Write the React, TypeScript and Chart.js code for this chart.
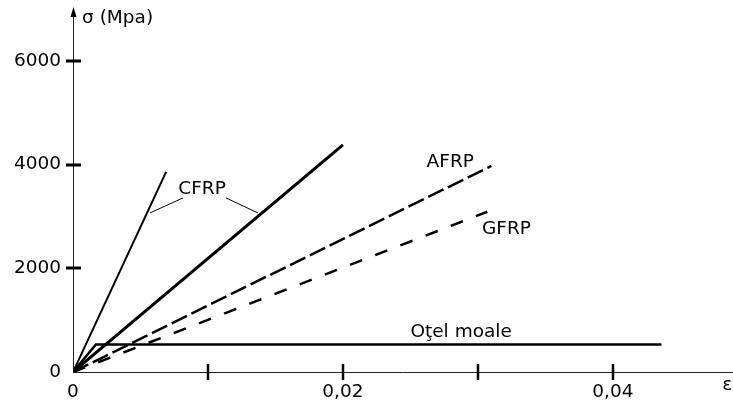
import React, { useEffect, useRef } from "react";
import { Chart, registerables } from "chart.js";

Chart.register(...registerables);

// strain (ε) / stress (σ, MPa) end points of each material curve
const cfrpHighX = [0, 0.0069];
const cfrpHighY = [0, 3860];
const cfrpX = [0, 0.02];
const cfrpY = [0, 4380];
const afrpX = [0, 0.031];
const afrpY = [0, 3975];
const gfrpX = [0, 0.0307];
const gfrpY = [0, 3090];
const steelX = [0, 0.0017, 0.0436];
const steelY = [0, 530, 530];

const xTickValues = [0, 0.01, 0.02, 0.03, 0.04];
const xTickLabels = ["0", "", "0,02", "", "0,04"];
const yTickValues = [0, 2000, 4000, 6000];
const yTickLabels = ["0", "2000", "4000", "6000"];

const FONT = '"DejaVu Sans", Verdana, sans-serif';
const FS = 18.5;

const pts = (xs: number[], ys: number[]) => xs.map((x, i) => ({ x, y: ys[i] }));

const decorPlugin = {
  id: "decor",
  afterDraw(chart: any) {
    const { ctx, scales, chartArea } = chart;
    const xs = scales.x;
    const ys = scales.y;
    const x0 = xs.getPixelForValue(0);
    const y0 = ys.getPixelForValue(0);
    ctx.save();
    ctx.strokeStyle = "#000";
    ctx.fillStyle = "#000";
    // tick marks crossing the axes
    ctx.lineWidth = 2.5;
    xTickValues.slice(1).forEach((v) => {
      const px = Math.round(xs.getPixelForValue(v));
      ctx.beginPath();
      ctx.moveTo(px, y0 - 8);
      ctx.lineTo(px, y0 + 8);
      ctx.stroke();
    });
    ctx.lineWidth = 3;
    yTickValues.slice(1).forEach((v) => {
      const py = Math.round(ys.getPixelForValue(v));
      ctx.beginPath();
      ctx.moveTo(x0 - 7, py);
      ctx.lineTo(x0 + 8, py);
      ctx.stroke();
    });
    // arrow head at top of y axis
    ctx.beginPath();
    ctx.moveTo(x0 + 0.5, chartArea.top - 2);
    ctx.lineTo(x0 - 2.5, chartArea.top + 8);
    ctx.lineTo(x0 + 3.5, chartArea.top + 8);
    ctx.closePath();
    ctx.fill();

    // annotations
    ctx.font = `${FS}px ${FONT}`;
    ctx.textBaseline = "middle";
    ctx.textAlign = "left";
    const label = (t: string, x: number, y: number) => {
      ctx.fillText(t, xs.getPixelForValue(x), ys.getPixelForValue(y));
    };
    label("σ (Mpa)", 0.00067, 6830);
    label("CFRP", 0.0078, 3530);
    label("AFRP", 0.0262, 4051);
    label("GFRP", 0.0303, 2759);
    label("Oţel moale", 0.025, 772);
    label("ε", 0.0481, -251);

    // leader lines from CFRP label
    ctx.lineWidth = 1;
    const seg = (ax: number, ay: number, bx: number, by: number) => {
      ctx.beginPath();
      ctx.moveTo(xs.getPixelForValue(ax), ys.getPixelForValue(ay));
      ctx.lineTo(xs.getPixelForValue(bx), ys.getPixelForValue(by));
      ctx.stroke();
    };
    seg(0.00815, 3357, 0.0057, 3067);
    seg(0.01133, 3357, 0.0137, 3067);
    ctx.restore();
  },
};

export default function App() {
  const ref = useRef<HTMLCanvasElement | null>(null);
  useEffect(() => {
    if (!ref.current) return;
    const base = { showLine: true, pointRadius: 0, borderColor: "#000", fill: false, tension: 0 };
    const chart = new Chart(ref.current, {
      type: "scatter",
      data: {
        datasets: [
          { ...base, label: "CFRP", data: pts(cfrpHighX, cfrpHighY), borderWidth: 2 },
          { ...base, label: "CFRP 2", data: pts(cfrpX, cfrpY), borderWidth: 3 },
          { ...base, label: "AFRP", data: pts(afrpX, afrpY), borderWidth: 2.5, borderDash: [17, 5] },
          { ...base, label: "GFRP", data: pts(gfrpX, gfrpY), borderWidth: 2.5, borderDash: [13, 14] },
          { ...base, label: "Oţel moale", data: pts(steelX, steelY), borderWidth: 2.5 },
        ],
      },
      options: {
        responsive: false,
        animation: false,
        devicePixelRatio: 1,
        layout: { padding: { top: 9, right: 0, left: 0, bottom: 0 } },
        plugins: { legend: { display: false }, tooltip: { enabled: false } },
        scales: {
          x: {
            type: "linear",
            min: 0,
            max: 0.0489,
            border: { display: true, color: "#222", width: 1 },
            grid: { display: false, drawTicks: false },
            afterBuildTicks: (s: any) => {
              s.ticks = xTickValues.map((v) => ({ value: v }));
            },
            ticks: {
              autoSkip: false,
              maxRotation: 0,
              padding: 9,
              color: "#000",
              font: { family: FONT, size: FS },
              callback: (_v: any, i: number) => xTickLabels[i] ?? "",
            },
            afterFit: (s: any) => {
              s.height = 30;
              s.paddingLeft = 0;
              s.paddingRight = 0;
            },
          },
          y: {
            type: "linear",
            min: 0,
            max: 7000,
            border: { display: true, color: "#222", width: 1 },
            grid: { display: false, drawTicks: false },
            afterBuildTicks: (s: any) => {
              s.ticks = yTickValues.map((v) => ({ value: v }));
            },
            ticks: {
              autoSkip: false,
              padding: 12,
              color: "#000",
              font: { family: FONT, size: FS },
              callback: (_v: any, i: number) => yTickLabels[i] ?? "",
            },
            afterFit: (s: any) => {
              s.width = 73;
              s.paddingTop = 0;
              s.paddingBottom = 0;
            },
          },
        },
      },
      plugins: [decorPlugin],
    } as any);
    return () => chart.destroy();
  }, []);
  return (
    <div style={{ position: "fixed", left: 0, top: 0, width: 733, height: 402, background: "#fff" }}>
      <canvas ref={ref} width={733} height={402} />
    </div>
  );
}
